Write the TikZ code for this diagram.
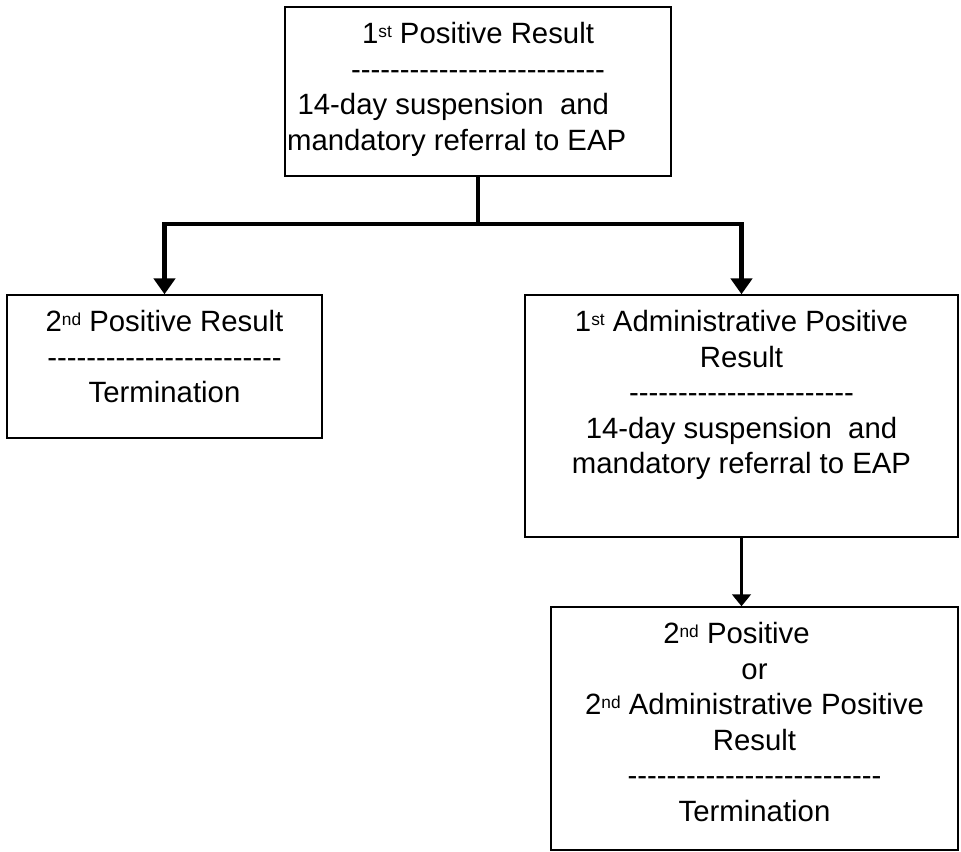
\documentclass[tikz,border=0pt]{standalone}
\usepackage{fontspec}
\setmainfont{Liberation Sans}[Ligatures=TeXOff]
\usetikzlibrary{positioning,calc,arrows.meta,shadows}
\newcommand*{\ord}[1]{\raisebox{4.5pt}{\fontsize{13}{13}\selectfont #1}}
\newcommand*{\trail}[1]{\rule{#1}{0pt}}

\begin{document}
\begin{tikzpicture}[x=0.75pt,y=-0.75pt]
\tikzstyle{stage}=[draw,fill=white,line width=1.1pt,inner sep=0pt,
  drop shadow={shadow xshift=1.1pt,shadow yshift=-1.1pt,fill=black,opacity=1}]
\tikzstyle{stagetext}=[inner sep=0pt,align=center,font=\fontsize{22}{26.6}\selectfont]
\tikzstyle{main}=[line width=3.6pt,-{Triangle[width=16pt,length=12pt]}]
\tikzstyle{minor}=[line width=2pt,-{Triangle[width=14pt,length=9pt]}]
\useasboundingbox (0,0) rectangle (961,851);
\node[stage,minimum width=289.5pt,minimum height=126.75pt] (first) at (478,91.5) {};
\node[stage,minimum width=236.25pt,minimum height=107.25pt] (second) at (164.5,366.5) {};
\node[stage,minimum width=324.75pt,minimum height=181.5pt] (admin) at (741.5,416) {};
\node[stage,minimum width=305.25pt,minimum height=182.25pt] (final) at (754.5,728.5) {};
\node[stagetext,below=12pt of first.north] (firsttxt)
     {1\ord{st} Positive Result\\
      --------------------------\\
      14-day suspension~ and\trail{37pt}\\
      mandatory referral to EAP\trail{32pt}};
\node[stagetext,below=12pt of second.north] (secondtxt)
     {2\ord{nd} Positive Result\\
      ------------------------\\
      Termination};
\node[stagetext,below=12pt of admin.north] (admintxt)
     {1\ord{st} Administrative Positive\\
      Result\\
      -----------------------\\
      14-day suspension~ and\\
      mandatory referral to EAP};
\node[stagetext,below=12pt of final.north] (finaltxt)
     {2\ord{nd} Positive\trail{27pt}\\
      or\\
      2\ord{nd} Administrative Positive\\
      Result\\
      --------------------------\\
      Termination};
\coordinate (split) at (first.south |- 0,224);
\draw[line width=3.6pt] (first.south) -- (split);
\draw[main] (split) -| (second.north);
\draw[main] (split) -| (admin.north);
\draw[minor] (admin.south) -- (admin.south |- final.north);
\end{tikzpicture}
\end{document}
